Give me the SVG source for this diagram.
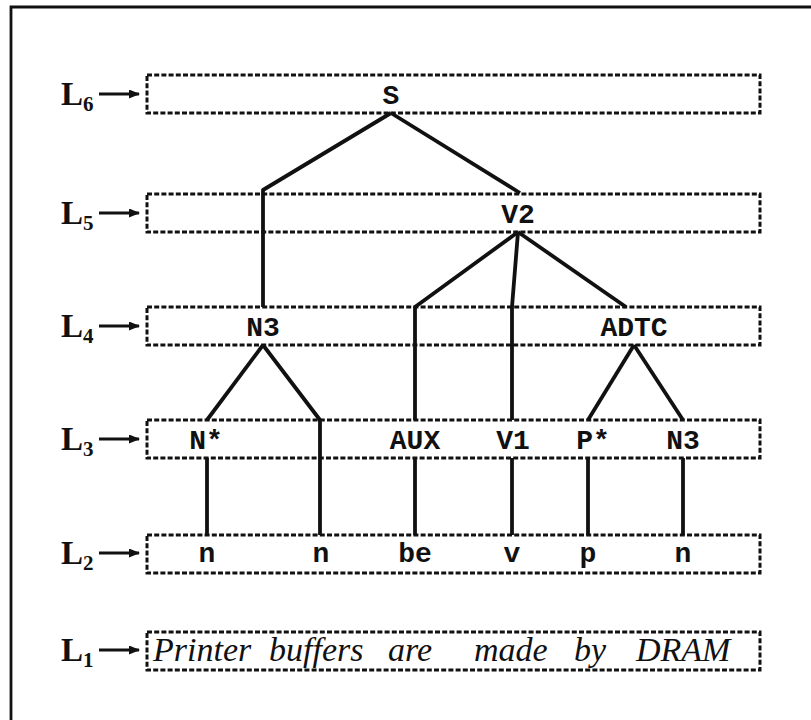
<svg xmlns="http://www.w3.org/2000/svg" width="811" height="720" viewBox="0 0 811 720">
  <style>
    .lvl { fill: none; stroke: #111; stroke-width: 3; stroke-dasharray: 5 2.2; }
    .edge { fill: none; stroke: #111; stroke-width: 3.8; stroke-linejoin: round; }
    .frame { fill: none; stroke: #111; stroke-width: 2.8; }
    .tag { font-family: "Liberation Mono", "DejaVu Sans Mono", monospace; font-weight: bold; font-size: 28px; fill: #111; text-anchor: middle; }
    .lab { font-family: "Liberation Serif", "DejaVu Serif", serif; font-weight: bold; font-size: 33px; fill: #111; }
    .sub { font-size: 21px; }
    .word { font-family: "Liberation Serif", "DejaVu Serif", serif; font-style: italic; font-size: 34px; fill: #111; }
    .arr { stroke: #111; stroke-width: 3; }
  </style>
  <defs>
    <marker id="head" markerWidth="11" markerHeight="9" refX="10" refY="4.5" orient="auto" markerUnits="userSpaceOnUse">
      <path d="M0,0 L11,4.5 L0,9 Z" fill="#111"/>
    </marker>
  </defs>

  <rect width="811" height="720" fill="#fff"/>
  <!-- page frame -->
  <path class="frame" d="M11,720 V7 H811"/>

  <!-- level bands with their labels -->
  <g id="levels">
    <g id="L6"><text class="lab" x="61" y="105">L<tspan class="sub" dy="6">6</tspan></text><line class="arr" x1="99" y1="94" x2="139" y2="94" marker-end="url(#head)"/><rect class="lvl" x="147" y="75" width="613" height="38"/></g>
    <g id="L5"><text class="lab" x="61" y="224">L<tspan class="sub" dy="6">5</tspan></text><line class="arr" x1="99" y1="213" x2="139" y2="213" marker-end="url(#head)"/><rect class="lvl" x="147" y="194" width="613" height="38"/></g>
    <g id="L4"><text class="lab" x="61" y="337">L<tspan class="sub" dy="6">4</tspan></text><line class="arr" x1="99" y1="326" x2="139" y2="326" marker-end="url(#head)"/><rect class="lvl" x="147" y="307" width="613" height="38"/></g>
    <g id="L3"><text class="lab" x="61" y="450">L<tspan class="sub" dy="6">3</tspan></text><line class="arr" x1="99" y1="439" x2="139" y2="439" marker-end="url(#head)"/><rect class="lvl" x="147" y="420" width="613" height="38"/></g>
    <g id="L2"><text class="lab" x="61" y="564">L<tspan class="sub" dy="6">2</tspan></text><line class="arr" x1="99" y1="553" x2="139" y2="553" marker-end="url(#head)"/><rect class="lvl" x="147" y="535" width="613" height="38"/></g>
    <g id="L1"><text class="lab" x="61" y="661">L<tspan class="sub" dy="6">1</tspan></text><line class="arr" x1="99" y1="650" x2="139" y2="650" marker-end="url(#head)"/><rect class="lvl" x="147" y="632" width="613" height="38"/></g>
  </g>

  <!-- tree edges -->
  <g id="edges">
    <path class="edge" d="M391,113 L263,190 V307"/>
    <path class="edge" d="M391,113 L520,193"/>
    <path class="edge" d="M518,232 L415,307 V420"/>
    <path class="edge" d="M518,232 L512,307 V420"/>
    <path class="edge" d="M518,232 L626,307"/>
    <path class="edge" d="M263,345 L207,420"/>
    <path class="edge" d="M263,345 L320,420 V535"/>
    <path class="edge" d="M634,345 L588,420"/>
    <path class="edge" d="M634,345 L683,420"/>
    <path class="edge" d="M207,458 V535"/>
    <path class="edge" d="M415,458 V535"/>
    <path class="edge" d="M512,458 V535"/>
    <path class="edge" d="M588,458 V535"/>
    <path class="edge" d="M683,458 V535"/>
  </g>

  <!-- nodes -->
  <g id="node-S"><text class="tag" x="391" y="104">S</text></g>
  <g id="node-V2"><text class="tag" x="518" y="223">V2</text></g>
  <g id="node-N3a"><text class="tag" x="263" y="336">N3</text></g>
  <g id="node-ADTC"><text class="tag" x="634" y="336">ADTC</text></g>
  <g id="node-Nstar"><text class="tag" x="206" y="449">N*</text></g>
  <g id="node-AUX"><text class="tag" x="415" y="449">AUX</text></g>
  <g id="node-V1"><text class="tag" x="513" y="449">V1</text></g>
  <g id="node-Pstar"><text class="tag" x="593" y="449">P*</text></g>
  <g id="node-N3b"><text class="tag" x="683" y="449">N3</text></g>
  <g id="node-n1"><text class="tag" x="207" y="562">n</text></g>
  <g id="node-n2"><text class="tag" x="321" y="562">n</text></g>
  <g id="node-be"><text class="tag" x="415" y="562">be</text></g>
  <g id="node-v"><text class="tag" x="512" y="562">v</text></g>
  <g id="node-p"><text class="tag" x="588" y="562">p</text></g>
  <g id="node-n3"><text class="tag" x="683" y="562">n</text></g>

  <!-- sentence -->
  <g id="sentence">
    <text class="word" x="153" y="661">Printer</text>
    <text class="word" x="269" y="661">buffers</text>
    <text class="word" x="388" y="661">are</text>
    <text class="word" x="474" y="661">made</text>
    <text class="word" x="574" y="661">by</text>
    <text class="word" x="636" y="661">DRAM</text>
  </g>
</svg>
